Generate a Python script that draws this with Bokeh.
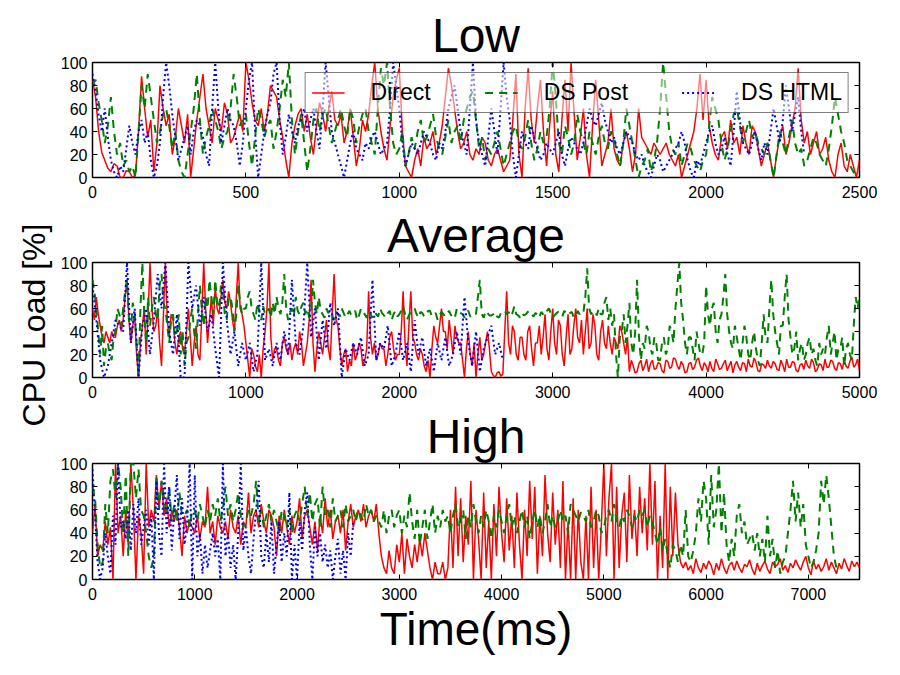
from bokeh.plotting import figure
from bokeh.layouts import column, row
from bokeh.models import (Range1d, FixedTicker, LinearAxis, CustomJSTickFormatter,
                          Legend, LegendItem)
from bokeh.embed import file_html
from bokeh.resources import INLINE

# ---------------- data ----------------
titles = ["Low", "Average", "High"]
series_names = ["Direct", "DS Post", "DS HTML"]
y_label = "CPU Load [%]"
x_label = "Time(ms)"
x_max = [2500, 5000, 7500]
x_ticks_low = [0, 500, 1000, 1500, 2000, 2500]
x_ticks_avg = [0, 1000, 2000, 3000, 4000, 5000]
x_ticks_high = [0, 1000, 2000, 3000, 4000, 5000, 6000, 7000]
y_ticks = [0, 20, 40, 60, 80, 100]
# sampling interval (ms) of each series: Direct, DS Post, DS HTML
steps_low = [10, 10, 10]
steps_avg = [12.5, 12.5, 25]
steps_high = [25, 25, 25]

low_direct = [85, 70, 40, 22, 15, 8, 5, 12, 10, 0, 0, 6, 5, 0, 2, 40, 88, 60, 35, 50,
              5, 30, 80, 60, 45, 55, 20, 35, 60, 45, 30, 55, 0, 25, 50, 70, 90, 60, 45, 30,
              60, 50, 40, 65, 55, 30, 35, 45, 55, 40, 100, 85, 65, 50, 45, 60, 40, 55, 80, 75,
              70, 50, 35, 15, 0, 30, 45, 55, 60, 40, 55, 35, 20, 45, 65, 55, 40, 60, 75, 50,
              45, 55, 30, 40, 60, 35, 10, 25, 50, 40, 55, 80, 100, 60, 40, 25, 15, 45, 70, 85,
              95, 40, 10, 5, 0, 15, 25, 10, 35, 25, 30, 40, 20, 30, 45, 70, 95, 80, 60, 40,
              25, 30, 40, 20, 15, 25, 20, 35, 30, 15, 10, 20, 25, 15, 5, 10, 15, 50, 90, 20,
              0, 60, 95, 50, 30, 60, 85, 40, 10, 45, 75, 20, 5, 50, 85, 40, 100, 55, 15, 35,
              60, 20, 0, 45, 85, 50, 10, 20, 30, 60, 25, 15, 10, 30, 40, 25, 5, 20, 60, 35,
              30, 25, 20, 30, 25, 20, 25, 30, 20, 15, 10, 20, 0, 10, 20, 30, 40, 60, 90, 50,
              85, 45, 30, 20, 15, 35, 40, 25, 50, 30, 35, 20, 45, 30, 20, 45, 40, 25, 10, 20,
              30, 15, 0, 20, 35, 45, 20, 30, 45, 60, 95, 50, 30, 40, 20, 30, 40, 20, 25, 35,
              15, 5, 0, 20, 30, 10, 5, 20, 10, 0, 15]
low_post = [80, 85, 65, 50, 30, 45, 70, 40, 20, 30, 10, 15, 5, 10, 0, 40, 80, 60, 90, 70,
            50, 30, 40, 55, 60, 45, 25, 40, 15, 5, 0, 20, 40, 60, 90, 50, 20, 35, 45, 60,
            50, 40, 25, 35, 40, 60, 90, 70, 45, 50, 55, 30, 10, 35, 60, 50, 35, 45, 50, 25,
            40, 60, 85, 70, 100, 50, 20, 40, 55, 30, 5, 25, 50, 60, 40, 55, 60, 45, 30, 40,
            50, 60, 45, 35, 60, 50, 30, 45, 55, 60, 40, 30, 20, 60, 95, 80, 100, 60, 30, 20,
            25, 40, 10, 20, 35, 25, 40, 50, 30, 35, 45, 55, 35, 25, 20, 35, 50, 30, 40, 45,
            30, 50, 60, 70, 75, 50, 25, 35, 15, 25, 20, 30, 40, 25, 10, 20, 30, 40, 45, 30,
            25, 35, 50, 30, 15, 25, 40, 30, 35, 60, 100, 70, 30, 20, 45, 35, 20, 30, 55, 40,
            30, 20, 40, 30, 20, 35, 45, 30, 25, 40, 35, 20, 10, 30, 60, 45, 30, 15, 0, 10,
            15, 25, 5, 15, 30, 60, 100, 70, 40, 25, 20, 30, 10, 20, 30, 25, 15, 10, 5, 15,
            20, 45, 70, 60, 50, 30, 15, 25, 40, 55, 60, 45, 30, 40, 50, 35, 40, 30, 25, 20,
            30, 15, 0, 20, 40, 30, 20, 35, 50, 30, 20, 25, 10, 15, 25, 35, 30, 20, 15, 10,
            25, 45, 70, 55, 40, 30, 15, 10, 5, 0, 0]
low_html = [90, 75, 55, 40, 60, 35, 15, 5, 0, 10, 5, 25, 45, 30, 20, 40, 50, 30, 40, 15,
            0, 10, 30, 70, 100, 80, 55, 35, 15, 25, 35, 45, 20, 40, 50, 45, 35, 20, 10, 60,
            100, 60, 30, 45, 60, 50, 45, 30, 10, 30, 60, 85, 100, 40, 0, 20, 40, 55, 65, 90,
            100, 50, 20, 35, 55, 40, 30, 45, 50, 60, 40, 50, 60, 40, 25, 60, 100, 70, 40, 30,
            20, 10, 0, 15, 30, 40, 25, 20, 15, 30, 25, 35, 40, 30, 20, 25, 30, 60, 100, 80,
            60, 30, 10, 20, 30, 25, 20, 30, 40, 35, 30, 20, 15, 30, 25, 40, 60, 70, 80, 60,
            40, 30, 20, 60, 100, 50, 30, 20, 10, 35, 60, 40, 20, 60, 100, 70, 50, 20, 0, 20,
            40, 30, 25, 45, 35, 25, 15, 20, 30, 25, 20, 30, 40, 20, 10, 25, 35, 30, 25, 20,
            30, 45, 60, 50, 45, 55, 65, 50, 40, 30, 35, 25, 20, 30, 40, 35, 30, 20, 15, 20,
            10, 5, 0, 10, 20, 15, 5, 10, 15, 20, 25, 30, 40, 30, 15, 5, 0, 15, 10, 20,
            30, 40, 45, 30, 20, 25, 35, 20, 10, 40, 75, 50, 30, 25, 20, 30, 40, 25, 15, 30,
            20, 40, 60, 45, 30, 50, 80, 60, 40, 55, 70, 40, 20]

avg_direct = [60, 50, 70, 55, 45, 35, 30, 40, 35, 30, 40, 35, 35, 45, 50, 40,
              50, 70, 85, 50, 30, 45, 55, 20, 0, 30, 45, 60, 20, 55, 100, 60,
              40, 45, 60, 30, 10, 55, 100, 50, 35, 55, 50, 30, 20, 35, 40, 25,
              20, 40, 60, 35, 10, 30, 45, 20, 15, 55, 100, 60, 30, 50, 70, 45,
              80, 60, 55, 70, 85, 65, 60, 75, 65, 50, 40, 70, 100, 60, 55, 45,
              30, 15, 0, 25, 20, 10, 5, 20, 0, 25, 40, 60, 100, 35, 15, 25,
              25, 15, 10, 30, 35, 25, 20, 30, 15, 25, 30, 20, 40, 30, 10, 20,
              30, 50, 85, 30, 5, 25, 40, 30, 20, 35, 50, 25, 15, 55, 90, 50,
              45, 25, 10, 20, 25, 5, 15, 10, 30, 15, 20, 30, 25, 10, 15, 25,
              75, 35, 20, 30, 15, 20, 30, 25, 25, 10, 20, 35, 40, 25, 15, 20,
              20, 40, 75, 30, 10, 45, 75, 35, 30, 20, 15, 25, 20, 10, 5, 15,
              0, 25, 45, 35, 30, 45, 60, 40, 40, 25, 50, 35, 20, 45, 35, 30,
              30, 15, 0, 25, 40, 20, 10, 30, 0, 20, 35, 15, 20, 30, 40, 25,
              5, 2, 0, 4, 5, 1, 3, 40, 75, 30, 20, 45, 40, 20, 15, 35,
              35, 20, 15, 40, 45, 25, 10, 30, 30, 45, 20, 35, 55, 25, 15, 40,
              60, 30, 20, 50, 45, 20, 10, 35, 55, 20, 25, 45, 60, 35, 30, 50,
              20, 40, 60, 25, 30, 55, 45, 20, 15, 40, 50, 30, 25, 45, 30, 20,
              35, 30, 25, 45, 40, 30, 20, 35, 5, 15, 10, 4, 5, 12, 15, 6,
              10, 16, 5, 12, 15, 7, 8, 13, 12, 6, 4, 15, 14, 8, 9, 17,
              16, 10, 7, 14, 11, 4, 5, 12, 13, 7, 9, 15, 17, 10, 6, 13,
              10, 5, 14, 8, 5, 16, 12, 7, 8, 12, 15, 6, 10, 14, 4, 11,
              14, 9, 6, 13, 12, 5, 16, 10, 9, 17, 13, 6, 5, 12, 11, 8,
              15, 10, 8, 14, 12, 7, 6, 15, 11, 5, 16, 9, 9, 14, 13, 6,
              5, 11, 12, 7, 15, 10, 8, 16, 13, 5, 7, 12, 11, 6, 16, 9,
              9, 15, 14, 8, 6, 13, 12, 7, 15, 10, 8, 14, 18, 9, 11, 16,
              6]
avg_post = [85, 75, 60, 40, 20, 45, 10, 25, 30, 20, 15, 35, 40, 60, 55, 45,
            60, 75, 85, 50, 40, 65, 55, 30, 0, 60, 100, 55, 30, 70, 45, 60,
            70, 55, 50, 80, 90, 65, 60, 45, 30, 50, 55, 35, 40, 55, 20, 40,
            10, 30, 35, 50, 60, 40, 25, 55, 80, 60, 45, 70, 60, 85, 70, 55,
            85, 65, 60, 80, 75, 55, 50, 70, 70, 60, 40, 55, 80, 65, 55, 60,
            60, 70, 75, 60, 55, 50, 65, 58, 50, 62, 55, 57, 60, 52, 65, 55,
            70, 60, 55, 65, 90, 60, 50, 57, 60, 53, 70, 58, 55, 62, 65, 55,
            60, 52, 55, 85, 65, 55, 70, 58, 55, 52, 60, 56, 58, 54, 50, 57,
            55, 53, 60, 56, 52, 55, 58, 54, 56, 58, 50, 54, 60, 57, 55, 52,
            58, 55, 52, 57, 55, 53, 60, 56, 54, 52, 56, 58, 50, 55, 58, 53,
            55, 58, 62, 55, 50, 54, 57, 60, 60, 55, 52, 57, 56, 53, 54, 58,
            58, 53, 55, 56, 50, 54, 57, 55, 53, 56, 58, 54, 55, 52, 60, 57,
            56, 55, 52, 57, 58, 53, 54, 56, 55, 70, 85, 55, 52, 58, 56, 54,
            54, 55, 57, 53, 52, 56, 56, 58, 55, 57, 53, 56, 62, 55, 54, 52,
            56, 54, 55, 57, 58, 55, 53, 56, 55, 52, 57, 55, 54, 58, 60, 56,
            52, 54, 56, 57, 55, 53, 58, 56, 54, 56, 57, 52, 53, 58, 55, 57,
            56, 70, 95, 60, 55, 57, 58, 54, 60, 55, 55, 65, 70, 50, 60, 45,
            55, 20, 0, 35, 40, 55, 30, 45, 65, 30, 20, 40, 85, 35, 15, 30,
            25, 45, 40, 25, 20, 35, 30, 15, 15, 30, 35, 20, 25, 45, 40, 30,
            60, 80, 100, 65, 50, 30, 20, 35, 35, 25, 15, 40, 30, 20, 20, 30,
            80, 55, 45, 60, 65, 40, 30, 50, 55, 70, 90, 55, 40, 30, 25, 45,
            35, 25, 15, 30, 45, 35, 20, 15, 30, 40, 25, 15, 10, 30, 55, 35,
            30, 60, 85, 55, 40, 30, 20, 45, 45, 70, 90, 50, 35, 20, 25, 40,
            15, 25, 30, 15, 20, 30, 35, 20, 25, 15, 10, 30, 20, 25, 20, 35,
            45, 20, 30, 40, 15, 25, 25, 35, 10, 25, 30, 20, 15, 45, 70, 60,
            70]
avg_html = [80, 50, 15, 0, 10, 30, 50, 45, 40, 100, 30, 60, 0, 45, 60, 20, 50, 90, 60, 100,
            40, 20, 55, 0, 0, 100, 60, 80, 45, 70, 40, 55, 25, 0, 100, 50, 20, 40, 10, 30,
            15, 30, 5, 20, 100, 15, 25, 10, 30, 15, 40, 20, 85, 30, 20, 45, 100, 35, 60, 15,
            50, 25, 65, 45, 60, 0, 25, 15, 30, 20, 35, 10, 20, 85, 15, 30, 25, 45, 10, 20,
            40, 15, 30, 5, 50, 20, 35, 10, 25, 5, 30, 15, 35, 10, 20, 40, 20, 70, 30, 10,
            40, 5, 25, 35, 45, 20, 30, 15]

high_direct = [40, 65, 20, 30, 25, 50, 30, 45, 0, 100, 40, 55, 20, 60, 30, 100, 60, 0, 55, 40,
               5, 100, 45, 60, 50, 90, 60, 85, 55, 70, 45, 60, 50, 60, 45, 20, 55, 40, 50, 45,
               40, 55, 35, 50, 45, 80, 40, 50, 30, 55, 45, 40, 50, 35, 60, 45, 40, 55, 30, 50,
               45, 75, 40, 55, 60, 45, 65, 50, 40, 60, 55, 45, 20, 55, 40, 60, 45, 30, 55, 40,
               50, 70, 35, 55, 60, 45, 30, 50, 25, 55, 40, 70, 45, 60, 35, 50, 55, 40, 60, 25,
               50, 65, 45, 55, 60, 50, 65, 45, 55, 60, 50, 65, 40, 20, 10, 5, 25, 10, 5, 30,
               15, 40, 5, 35, 20, 10, 30, 15, 35, 20, 40, 25, 10, 0, 15, 5, 5, 15, 0, 10,
               60, 10, 80, 20, 70, 15, 55, 30, 85, 0, 60, 35, 0, 75, 10, 50, 0, 65, 20, 80,
               40, 15, 70, 25, 55, 10, 75, 30, 0, 60, 20, 85, 35, 80, 5, 55, 20, 90, 40, 15,
               75, 30, 60, 10, 85, 0, 50, 0, 70, 0, 60, 15, 0, 55, 0, 80, 10, 60, 0, 45,
               100, 20, 70, 100, 0, 80, 10, 55, 75, 15, 90, 35, 60, 20, 80, 40, 70, 25, 100, 30,
               85, 0, 55, 10, 100, 0, 80, 20, 75, 30, 15, 10, 15, 8, 12, 5, 18, 10, 6, 14,
               9, 16, 12, 4, 14, 8, 18, 10, 5, 12, 15, 8, 16, 10, 6, 13, 11, 17, 9, 4,
               14, 7, 12, 16, 9, 5, 15, 11, 13, 18, 8, 12, 6, 14, 10, 17, 12, 8, 15, 20,
               10, 4, 16, 9, 13, 7, 11, 18, 8, 15, 10, 5, 14, 9, 18, 12, 7, 16, 11, 15, 10]
high_post = [80, 70, 30, 10, 15, 65, 40, 85, 95, 70, 100, 80, 40, 90, 20, 100, 100, 70, 95, 60,
             55, 40, 20, 10, 20, 90, 60, 85, 70, 55, 80, 50, 65, 50, 75, 55, 55, 60, 45, 60,
             60, 50, 65, 55, 45, 60, 50, 65, 55, 70, 50, 60, 80, 55, 65, 50, 60, 75, 55, 45,
             50, 60, 55, 65, 85, 50, 60, 45, 55, 65, 50, 60, 50, 40, 60, 55, 45, 60, 40, 55,
             60, 50, 65, 80, 55, 75, 50, 65, 70, 45, 80, 55, 60, 45, 70, 50, 55, 60, 45, 65,
             50, 55, 60, 50, 60, 55, 50, 65, 55, 60, 50, 55, 50, 45, 60, 40, 55, 60, 45, 55,
             60, 40, 55, 45, 75, 50, 35, 60, 30, 45, 60, 35, 50, 65, 40, 55, 45, 60, 50, 55,
             40, 55, 65, 45, 50, 60, 35, 55, 45, 65, 50, 40, 55, 45, 60, 50, 35, 55, 45, 60,
             50, 40, 55, 65, 45, 55, 40, 50, 60, 45, 55, 35, 50, 60, 45, 55, 40, 50, 65, 45,
             55, 45, 50, 60, 50, 55, 40, 65, 60, 55, 50, 58, 55, 50, 60, 45, 50, 60, 55, 40,
             45, 55, 60, 50, 65, 50, 45, 55, 50, 60, 55, 45, 55, 50, 60, 55, 60, 45, 55, 50,
             40, 30, 45, 25, 35, 20, 10, 30, 25, 15, 30, 20, 60, 20, 15, 25, 40, 70, 50, 85,
             70, 30, 90, 45, 60, 100, 40, 75, 30, 15, 35, 20, 55, 65, 40, 50, 30, 35, 40, 25,
             40, 20, 35, 15, 55, 20, 35, 10, 25, 5, 15, 20, 40, 60, 85, 50, 75, 45, 65, 30,
             20, 10, 15, 25, 40, 85, 65, 90, 70, 45, 20, 10]
high_html = [95, 55, 15, 0, 10, 40, 20, 5, 55, 30, 100, 45, 50, 35, 60, 25, 65, 40, 70, 30,
             45, 60, 30, 55, 0, 85, 40, 20, 100, 40, 80, 25, 60, 90, 35, 70, 30, 50, 100, 0,
             90, 20, 40, 5, 30, 10, 25, 40, 20, 35, 0, 100, 20, 40, 10, 30, 0, 40, 100, 25,
             45, 20, 5, 35, 60, 85, 20, 10, 40, 15, 50, 5, 30, 50, 15, 40, 20, 75, 0, 30,
             0, 50, 25, 60, 75, 30, 0, 45, 20, 40, 15, 30, 10, 25, 0, 20, 35, 5, 25, 0,
             40, 20, 50]

panels = [
    (titles[0], x_max[0], x_ticks_low, steps_low, [low_direct, low_post, low_html]),
    (titles[1], x_max[1], x_ticks_avg, steps_avg, [avg_direct, avg_post, avg_html]),
    (titles[2], x_max[2], x_ticks_high, steps_high, [high_direct, high_post, high_html]),
]

# ---------------- styling ----------------
FONT = "Liberation Sans"
colors = ["#ff0000", "#008000", "#0000ff"]
widths = [1.5, 2.0, 2.0]
dashes = ["solid", "8 6", "2 3"]
# (min_border_top, min_border_bottom, figure height)
borders = [(62, 26, 203), (59, 26, 200), (60, 88, 264)]
LABEL_W = 56
TOTAL_H = sum(b[2] for b in borders)

blank = CustomJSTickFormatter(code="return ''")


def style_axis(ax, ticks):
    ax.ticker = FixedTicker(ticks=ticks)
    ax.major_tick_in = 5
    ax.major_tick_out = 0
    ax.minor_tick_line_color = None
    ax.axis_line_color = None
    ax.major_tick_line_color = "black"
    ax.major_label_text_font = FONT
    ax.major_label_text_font_size = "16px"
    ax.major_label_text_color = "black"


# narrow figure that only carries the shared y-axis label
ylab = figure(width=LABEL_W, height=TOTAL_H, title=y_label, title_location="left",
              x_axis_type=None, y_axis_type=None, output_backend="svg",
              toolbar_location=None, min_border_left=51, min_border_right=0,
              min_border_top=222, min_border_bottom=TOTAL_H - 427)
ylab.title.align = "center"
ylab.title.text_font = FONT
ylab.title.text_font_size = "32px"
ylab.title.text_font_style = "normal"
ylab.title.text_color = "black"
ylab.title.standoff = 0
ylab.outline_line_color = None
ylab.background_fill_color = "white"
ylab.border_fill_color = "white"

figs = []
for i, (title, xmax, xticks, steps, series) in enumerate(panels):
    top, bottom, h = borders[i]
    p = figure(width=879 - LABEL_W, height=h, x_range=Range1d(0, xmax),
               y_range=Range1d(0, 100),
               output_backend="svg", toolbar_location=None,
               min_border_left=92 - LABEL_W, min_border_right=20,
               min_border_top=top, min_border_bottom=bottom)
    p.title.text = title
    p.title.align = "center"
    p.title.text_font = FONT
    p.title.text_font_size = "48px"
    p.title.text_font_style = "normal"
    p.title.text_color = "black"
    p.title.standoff = 2
    p.xgrid.visible = False
    p.ygrid.visible = False
    p.outline_line_color = "black"
    p.outline_line_width = 1.5
    p.background_fill_color = "white"
    p.border_fill_color = "white"

    bottom_ax = p.below[0]
    left_ax = p.left[0]
    style_axis(bottom_ax, xticks)
    bottom_ax.major_label_standoff = 8
    style_axis(left_ax, y_ticks)
    left_ax.major_label_standoff = 5

    top_ax = LinearAxis(formatter=blank)
    style_axis(top_ax, xticks)
    top_ax.major_label_text_font_size = "1px"
    top_ax.major_label_standoff = 0
    p.add_layout(top_ax, "above")
    right_ax = LinearAxis(formatter=blank)
    style_axis(right_ax, y_ticks)
    right_ax.major_label_text_font_size = "1px"
    right_ax.major_label_standoff = 0
    p.add_layout(right_ax, "right")

    renderers = []
    for k, vals in enumerate(series):
        t = [j * steps[k] for j in range(len(vals))]
        r = p.line(t, vals, line_color=colors[k], line_width=widths[k], line_dash=dashes[k])
        renderers.append(r)

    if i == 0:
        legend = Legend(items=[LegendItem(label=series_names[k], renderers=[renderers[k]])
                               for k in range(3)],
                        orientation="horizontal", location="top_right")
        legend.label_text_font = FONT
        legend.label_text_font_size = "23px"
        legend.label_text_color = "black"
        legend.glyph_width = 33
        legend.glyph_height = 23
        legend.label_standoff = 26
        legend.spacing = 54
        legend.padding = 6
        legend.margin = 10
        legend.background_fill_color = "white"
        legend.background_fill_alpha = 0.5
        legend.border_line_color = "black"
        legend.border_line_alpha = 0.5
        legend.border_line_width = 1
        p.add_layout(legend)
    if i == 2:
        bottom_ax.axis_label = x_label
        bottom_ax.axis_label_text_font = FONT
        bottom_ax.axis_label_text_font_size = "46px"
        bottom_ax.axis_label_text_font_style = "normal"
        bottom_ax.axis_label_text_color = "black"
        bottom_ax.axis_label_standoff = 0
    figs.append(p)

layout = row(ylab, column(*figs))
open("out.html", "w").write(file_html(layout, INLINE))
